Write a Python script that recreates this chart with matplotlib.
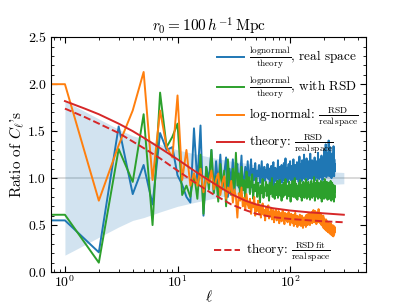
import numpy as np
import matplotlib
matplotlib.use('Agg')
import matplotlib.pyplot as plt

plt.rcParams['font.family'] = 'serif'
plt.rcParams['font.serif'] = ['cmr10']
plt.rcParams['mathtext.fontset'] = 'cm'
plt.rcParams['axes.formatter.use_mathtext'] = True

# multipoles 0..250 for the lognormal measurements
ell = np.arange(0, 251)

blue_real = [
    0.55, 0.55, 0.21, 1.55, 0.83, 1.14, 0.72, 1.48, 1.30, 1.33, 1.03, 0.93, 0.80, 0.74,
    1.53, 0.95, 1.56, 0.60, 1.12, 0.98, 1.30, 0.85, 1.18, 0.92,
    1.25, 0.88, 1.05, 1.22, 0.80, 1.10, 0.95, 1.20, 0.86, 1.08,
    1.15, 0.90, 1.02, 1.24, 0.88, 1.00, 1.12, 0.92, 1.18, 0.96,
    1.05, 1.20, 0.90, 1.10, 0.98, 1.16, 0.93, 1.08, 1.02, 1.14,
    0.95, 1.06, 1.18, 0.92, 1.04, 1.12, 0.97, 1.09, 1.01, 1.15,
    0.99, 1.10, 0.94, 1.07, 1.13, 0.96, 1.03, 1.17, 0.92, 1.05,
    1.11, 0.97, 1.08, 1.00, 1.19, 0.93, 1.06, 1.12, 0.98, 1.04,
    1.14, 0.95, 1.09, 1.02, 1.16, 0.97, 1.07, 1.21, 0.99, 1.05,
    1.11, 0.96, 1.08, 1.15, 1.00, 1.06, 1.18, 0.98, 1.10, 1.03,
    1.13, 0.97, 1.07, 1.20, 1.01, 1.09, 0.95, 1.14, 1.04, 1.11,
    0.99, 1.17, 1.06, 1.02, 1.12, 0.96, 1.09, 1.23, 1.03, 1.08,
    1.15, 1.00, 1.10, 0.97, 1.19, 1.05, 1.12, 1.02, 1.08, 1.25,
    0.99, 1.11, 1.06, 1.16, 1.01, 1.09, 1.21, 1.03, 1.13, 0.98,
    1.08, 1.18, 1.04, 1.12, 1.00, 1.15, 1.07, 1.26, 1.02, 1.10,
    1.14, 0.99, 1.08, 1.19, 1.05, 1.11, 1.01, 1.17, 1.06, 1.13,
    1.03, 1.22, 1.08, 0.98, 1.14, 1.07, 1.18, 1.02, 1.11, 1.05,
    1.16, 1.00, 1.12, 1.27, 1.04, 1.09, 1.15, 0.99, 1.10, 1.20,
    1.03, 1.13, 1.06, 1.18, 1.01, 1.11, 1.24, 1.05, 1.09, 1.16,
    0.98, 1.12, 1.07, 1.21, 1.03, 1.14, 1.08, 1.30, 1.02, 1.10,
    1.17, 1.04, 1.12, 1.36, 1.06, 1.15, 1.01, 1.20, 1.09, 1.13,
    1.05, 1.27, 1.10, 1.03, 1.18, 1.08, 1.40, 1.06, 1.14, 1.02,
    1.19, 1.09, 1.12, 1.33, 1.04, 1.16, 1.07, 1.22, 1.11, 1.00,
    1.15, 1.26, 1.08, 1.13, 1.03, 1.21, 1.10, 1.17, 1.06, 1.34,
    1.09, 1.14, 1.02, 1.20, 1.12, 1.07, 1.15,
]

green_rsd = [
    0.61, 0.61, 0.10, 1.31, 0.96, 1.68, 0.50, 1.91, 1.33, 1.44, 1.58, 0.82, 0.92, 0.80,
    1.05, 0.78, 1.25, 0.62, 1.12, 0.88, 1.30, 0.84, 1.02, 0.75,
    1.15, 0.90, 1.08, 0.70, 1.20, 0.95, 0.82, 1.10, 0.88, 1.27,
    0.92, 1.05, 0.80, 1.12, 0.87, 0.98, 0.76, 1.07, 0.90, 1.01,
    0.83, 0.97, 1.04, 0.78, 0.93, 0.86, 1.00, 0.80, 0.95, 0.88,
    0.74, 0.92, 0.84, 0.99, 0.79, 0.90, 0.86, 0.96, 0.81, 0.93,
    0.87, 0.76, 0.95, 0.83, 0.89, 1.00, 0.80, 0.91, 0.85, 0.78,
    0.94, 0.86, 0.82, 0.97, 0.79, 0.90, 0.84, 0.98, 0.81, 0.88,
    0.76, 0.93, 0.85, 0.80, 0.95, 0.87, 0.82, 0.99, 0.83, 0.90,
    0.78, 0.92, 0.86, 0.81, 0.96, 0.84, 0.89, 0.75, 0.93, 0.85,
    0.82, 0.97, 0.87, 0.80, 0.91, 0.84, 1.00, 0.86, 0.79, 0.94,
    0.83, 0.89, 0.77, 0.92, 0.86, 0.81, 0.95, 0.88, 0.84, 0.98,
    0.80, 0.90, 0.85, 0.76, 0.93, 0.87, 0.82, 0.96, 0.84, 0.89,
    0.79, 0.94, 0.86, 0.81, 0.99, 0.85, 0.90, 0.78, 0.92, 0.87,
    0.83, 0.96, 0.80, 0.89, 0.85, 0.93, 0.77, 0.91, 0.86, 0.82,
    0.97, 0.84, 0.88, 0.79, 0.94, 0.86, 0.81, 0.92, 0.87, 1.01,
    0.83, 0.90, 0.76, 0.95, 0.85, 0.88, 0.80, 0.93, 0.86, 0.82,
    0.98, 0.84, 0.89, 0.78, 0.92, 0.86, 0.95, 0.81, 0.88, 0.84,
    0.93, 0.79, 0.90, 0.86, 0.97, 0.82, 0.88, 0.75, 0.94, 0.85,
    0.89, 0.81, 0.96, 0.86, 0.83, 0.92, 0.78, 0.90, 0.85, 0.99,
    0.82, 0.88, 0.84, 0.94, 0.79, 0.91, 0.86, 0.81, 0.96, 0.85,
    0.89, 0.77, 0.93, 0.84, 0.87, 0.80, 0.95, 0.86, 0.82, 0.91,
    0.78, 0.94, 0.85, 0.88, 0.81, 0.97, 0.84, 0.89, 0.76, 0.92,
    0.86, 0.83, 0.95, 0.80, 0.90, 0.85, 0.78, 0.93, 0.87, 0.82,
    0.91, 0.75, 0.88, 0.84, 0.79, 0.92, 0.86,
]

orange_ratio = [
    2.00, 2.00, 0.76, 1.35, 1.72, 2.13, 0.98, 1.72, 1.33, 1.22, 1.88, 0.98, 1.30, 0.92,
    1.05, 0.92, 1.10, 0.85, 1.00, 0.95, 1.08, 0.88, 0.98, 1.05,
    0.82, 0.95, 1.02, 0.78, 0.90, 0.86, 0.97, 0.74, 0.88, 0.80,
    0.58, 0.84, 0.76, 0.90, 0.70, 0.79, 0.66, 0.83, 0.72, 0.68,
    0.78, 0.62, 0.74, 0.69, 0.80, 0.60, 0.71, 0.65, 0.76, 0.63,
    0.70, 0.58, 0.67, 0.73, 0.61, 0.66, 0.55, 0.69, 0.63, 0.60,
    0.71, 0.57, 0.64, 0.60, 0.68, 0.56, 0.62, 0.66, 0.53, 0.64,
    0.59, 0.67, 0.55, 0.62, 0.58, 0.65, 0.52, 0.61, 0.57, 0.63,
    0.54, 0.60, 0.66, 0.56, 0.59, 0.51, 0.63, 0.57, 0.61, 0.55,
    0.62, 0.53, 0.58, 0.64, 0.55, 0.60, 0.50, 0.57, 0.62, 0.54,
    0.59, 0.52, 0.61, 0.56, 0.49, 0.58, 0.55, 0.63, 0.51, 0.57,
    0.54, 0.60, 0.48, 0.56, 0.53, 0.59, 0.50, 0.55, 0.61, 0.52,
    0.57, 0.49, 0.54, 0.60, 0.51, 0.56, 0.47, 0.58, 0.53, 0.55,
    0.50, 0.57, 0.52, 0.59, 0.48, 0.55, 0.61, 0.53, 0.57, 0.50,
    0.56, 0.62, 0.52, 0.58, 0.54, 0.63, 0.50, 0.57, 0.60, 0.53,
    0.59, 0.55, 0.64, 0.52, 0.58, 0.61, 0.54, 0.66, 0.56, 0.60,
    0.53, 0.62, 0.57, 0.65, 0.55, 0.59, 0.63, 0.51, 0.58, 0.61,
    0.56, 0.64, 0.53, 0.60, 0.57, 0.67, 0.54, 0.59, 0.62, 0.55,
    0.60, 0.52, 0.63, 0.57, 0.54, 0.61, 0.50, 0.58, 0.55, 0.59,
    0.49, 0.56, 0.53, 0.60, 0.47, 0.54, 0.51, 0.57, 0.46, 0.53,
    0.50, 0.55, 0.45, 0.52, 0.48, 0.56, 0.44, 0.51, 0.49, 0.54,
    0.46, 0.52, 0.43, 0.50, 0.47, 0.53, 0.42, 0.49, 0.45, 0.51,
    0.44, 0.50, 0.41, 0.48, 0.46, 0.52, 0.40, 0.47, 0.44, 0.49,
    0.42, 0.48, 0.39, 0.46, 0.43, 0.50, 0.41, 0.45, 0.38, 0.47,
    0.43, 0.49, 0.40, 0.46, 0.42, 0.48, 0.44,
]

# theory curves and cosmic variance band, read at selected multipoles
ell_th = [1, 1.5, 2, 3, 4, 5, 7, 10, 14, 20, 30, 40, 50, 70, 100, 150, 200, 300]
theory_rsd = [1.82, 1.74, 1.68, 1.58, 1.50, 1.43, 1.32, 1.20, 1.08, 0.96, 0.83,
              0.76, 0.72, 0.68, 0.655, 0.635, 0.625, 0.61]
theory_rsd_fit = [1.74, 1.65, 1.58, 1.48, 1.39, 1.32, 1.21, 1.08, 0.96, 0.84, 0.72,
                  0.66, 0.62, 0.585, 0.565, 0.55, 0.54, 0.53]
band_lo = [0.18, 0.29, 0.37, 0.48, 0.55, 0.58, 0.64, 0.70, 0.74, 0.78, 0.82,
           0.84, 0.86, 0.88, 0.90, 0.92, 0.93, 0.94]
band_hi = [1.82, 1.71, 1.63, 1.52, 1.45, 1.42, 1.36, 1.30, 1.26, 1.22, 1.18,
           1.16, 1.14, 1.12, 1.10, 1.08, 1.07, 1.06]

fig, ax = plt.subplots(figsize=(4.07, 3.05), dpi=100)
fig.subplots_adjust(left=0.125, right=0.9, bottom=0.108, top=0.878)

ax.axhline(1.0, color='lightgray', lw=1.2, zorder=0)
ax.fill_between(ell_th, band_lo, band_hi, color='C0', alpha=0.2, lw=0, zorder=1)

l1, = ax.plot(ell, blue_real, color='C0', lw=1.4,
              label=r'$\frac{\rm lognormal}{\rm theory}$, real space')
l2, = ax.plot(ell, green_rsd, color='C2', lw=1.4,
              label=r'$\frac{\rm lognormal}{\rm theory}$, with RSD')
l3, = ax.plot(ell, orange_ratio, color='C1', lw=1.4,
              label=r'log-normal: $\frac{\rm RSD}{\rm real\,space}$')
l4, = ax.plot(ell_th, theory_rsd, color='C3', lw=1.4,
              label=r'theory: $\frac{\rm RSD}{\rm real\,space}$')
l5, = ax.plot(ell_th, theory_rsd_fit, color='C3', lw=1.4, ls='--',
              label=r'theory: $\frac{\rm RSD\,fit}{\rm real\,space}$')

ax.set_xscale('log')
ax.set_xlim(0.75, 475)
ax.set_ylim(0, 2.5)
ax.set_xlabel(r'$\ell$', fontsize=11, labelpad=-1)
ax.set_ylabel(r"Ratio of $C_\ell$'s", fontsize=11, labelpad=1)
ax.set_title(r'$r_0 = 100\,h^{-1}\,{\rm Mpc}$', fontsize=11, pad=2)

ax.yaxis.set_major_locator(plt.MultipleLocator(0.5))
ax.yaxis.set_minor_locator(plt.MultipleLocator(0.1))
ax.yaxis.set_major_formatter(plt.FormatStrFormatter('%.1f'))
ax.tick_params(which='both', direction='in', top=True, right=True, labelsize=10)
ax.tick_params(axis='x', pad=1.5)
ax.tick_params(which='major', length=4)
ax.tick_params(which='minor', length=2)

leg1 = ax.legend(handles=[l1, l2, l3, l4], loc='upper right', frameon=False,
                 fontsize=9.5, labelspacing=0.3, handlelength=2.0,
                 handletextpad=0.4, borderaxespad=0.2)
ax.add_artist(leg1)
ax.legend(handles=[l5], loc='center left', frameon=False, fontsize=9.5,
          handlelength=2.0, handletextpad=0.4, borderaxespad=0.0,
          bbox_to_anchor=(0.5, 0.085))

fig.savefig('out.png', dpi=100)
